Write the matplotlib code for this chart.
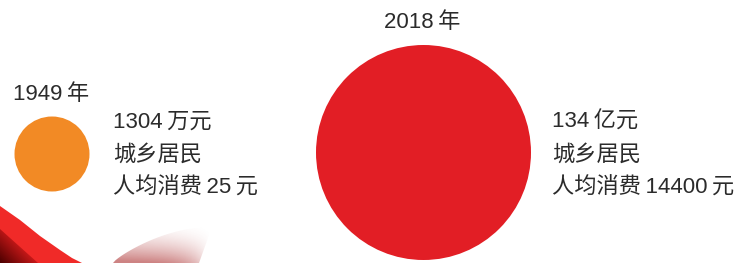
import numpy as np
import matplotlib
matplotlib.use("Agg")
import matplotlib.pyplot as plt
from matplotlib.patches import Circle, Polygon

# -----------------------------
# Data
# -----------------------------
years = ["1949\u2009年", "2018\u2009年"]
totals = ["1304\u2009万元", "134\u2009亿元"]
groups = ["城乡居民", "城乡居民"]
per_capita = ["人均消费\u200925\u2009元", "人均消费\u200914400\u2009元"]

# bubble layout (pixel coords of the figure)
centers = [(52, 154), (423.5, 152.5)]
radii = [37.5, 107.5]
colors = ["#F28A25", "#E21E25"]
year_pos = [(51, 94), (422, 22)]
text_x = [113, 552]
text_y = [122, 155, 188]

plt.rcParams["font.family"] = ["Liberation Sans", "Noto Sans CJK SC", "DejaVu Sans"]

W, H = 739, 263
fig = plt.figure(figsize=(W / 100, H / 100), dpi=100)
ax = fig.add_axes([0, 0, 1, 1])
ax.set_xlim(0, W)
ax.set_ylim(H, 0)
ax.axis("off")

# -----------------------------
# Decorative ribbon (bottom left)
# -----------------------------
edge = [[0, 206], [20, 220], [40, 236], [60, 250], [72, 258], [82, 263]]
ribbon = np.vstack([edge, [[0, 263]]])
ax.add_patch(Polygon(ribbon, closed=True, color="#F02A28", lw=0))

# dark shadow in the corner
shadow = Polygon([[0, 229], [38, 263], [0, 263]], closed=True, facecolor="none", lw=0)
ax.add_patch(shadow)
gx, gy = np.meshgrid(np.linspace(0, 1, 50), np.linspace(0, 1, 40))
g = np.clip(gx * 0.8 + (1 - gy) * 0.7, 0, 1)
shade = np.zeros((40, 50, 4))
shade[..., 0] = 0.3 + 0.6 * g
shade[..., 1] = 0.0 + 0.12 * g
shade[..., 2] = 0.0 + 0.12 * g
shade[..., 3] = 1
im = ax.imshow(shade, extent=[0, 38, 263, 229], aspect="auto", zorder=2)
im.set_clip_path(shadow)

# faded arc
t2 = np.linspace(0, 1, 40)
upper = np.column_stack([113 + 99 * t2, 263 - 36 * np.sin(t2 * np.pi / 2) ** 0.8])
lower = np.column_stack([199 + 13 * t2, 263 - 36 * t2])
band = Polygon(np.vstack([upper, lower[::-1]]), closed=True, facecolor="none", lw=0)
ax.add_patch(band)
fx, fy = np.meshgrid(np.linspace(0, 1, 80), np.linspace(0, 1, 40))
fade = np.zeros((40, 80, 4))
fade[..., 0] = 0.7
fade[..., 1] = 0.25
fade[..., 2] = 0.25
fade[..., 3] = np.clip((fy ** 1.6 * 0.6 + (1 - fx) * 0.1) * (1 - fx ** 5), 0, 0.65)
im2 = ax.imshow(fade, extent=[113, 212, 263, 227], aspect="auto", zorder=2)
im2.set_clip_path(band)

# -----------------------------
# Bubbles and labels
# -----------------------------
for i in range(len(years)):
    ax.add_patch(Circle(centers[i], radii[i], color=colors[i], lw=0, zorder=3))
    ax.text(year_pos[i][0], year_pos[i][1], years[i], fontsize=16,
            color="#2b2b2b", ha="center", va="center", zorder=4)
    lines = [totals[i], groups[i], per_capita[i]]
    for j, s in enumerate(lines):
        ax.text(text_x[i], text_y[j], s, fontsize=16, color="#2b2b2b",
                ha="left", va="center", zorder=4)

ax.set_xlim(0, W)
ax.set_ylim(H, 0)

fig.savefig("out.png", dpi=100)
plt.close(fig)
